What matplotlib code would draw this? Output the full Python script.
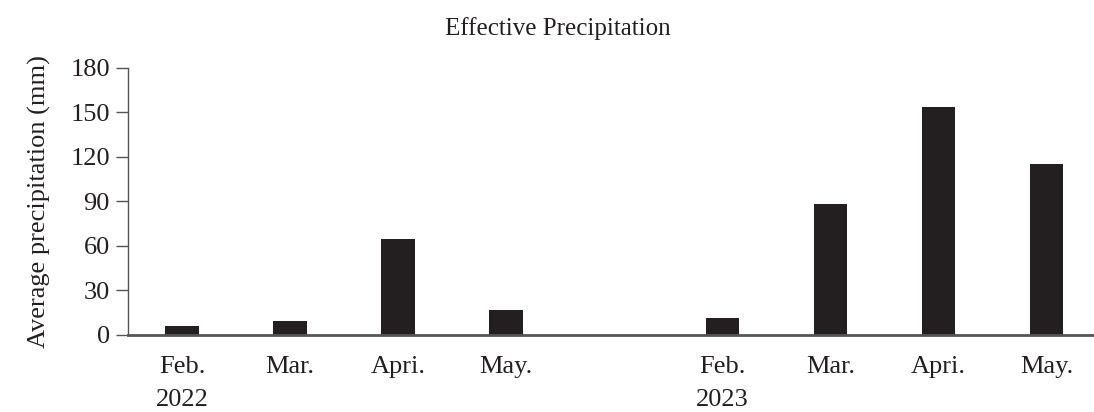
import matplotlib.pyplot as plt

months = ["Feb.\n2022", "Mar.", "Apri.", "May.", "Feb.\n2023", "Mar.", "Apri.", "May."]
positions = [0, 1, 2, 3, 5, 6, 7, 8]
precip = [6, 9.5, 65, 17, 11.5, 88, 154, 115.5]
yticks = [0, 30, 60, 90, 120, 150, 180]

plt.rcParams['font.family'] = ['Liberation Serif', 'DejaVu Serif']
ink = "#231f20"

fig = plt.figure(figsize=(10.94, 4.12), dpi=100)
ax = fig.add_axes([0.117, 0.187, 0.883, 0.648])

ax.bar(positions, precip, width=0.31, color=ink)

ax.set_xlim(-0.5, 8.44)
ax.set_ylim(0, 180)
ax.set_yticks(yticks)
ax.set_xticks(positions)
ax.set_xticklabels(months, linespacing=1.65)

ax.spines['top'].set_visible(False)
ax.spines['right'].set_visible(False)
ax.spines['left'].set_color("#555555")
ax.spines['bottom'].set_color("#555555")
ax.spines['left'].set_linewidth(1.0)
ax.spines['bottom'].set_linewidth(2.0)

ax.tick_params(axis='y', length=9, width=1, color="#555555", labelsize=19, labelcolor=ink, pad=4)
ax.tick_params(axis='x', length=0, labelsize=19, labelcolor=ink, pad=15)

ax.set_ylabel("Average precipitation (mm)", fontsize=19, color=ink, labelpad=14)
fig.text(0.51, 0.93, "Effective Precipitation", fontsize=18, color=ink,
         ha='center', va='center')

fig.savefig("out.png", dpi=100)
